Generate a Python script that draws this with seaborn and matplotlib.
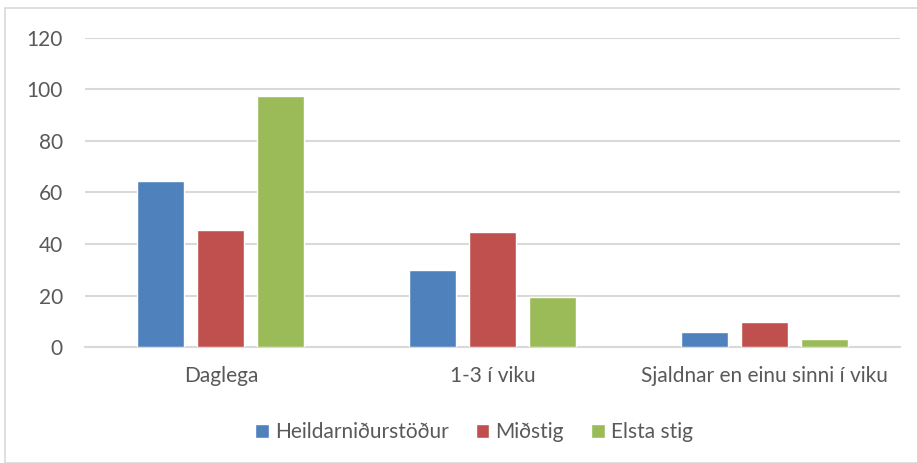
import matplotlib
matplotlib.use("Agg")
import matplotlib.pyplot as plt
from matplotlib.patches import Rectangle
import seaborn as sns
import pandas as pd

categories = ["Daglega", "1-3 í viku", "Sjaldnar en einu sinni í viku"]
series_names = ["Heildarniðurstöður", "Miðstig", "Elsta stig"]
heild = [64.5, 29.8, 5.8]
midstig = [45.5, 44.8, 9.7]
elsta = [97.5, 19.5, 3.1]
y_ticks = [0, 20, 40, 60, 80, 100, 120]

rows = []
for name, vals in zip(series_names, [heild, midstig, elsta]):
    for c, v in zip(categories, vals):
        rows.append({"cat": c, "series": name, "value": v})
df = pd.DataFrame(rows)

sns.set_theme(style="white")
plt.rcParams["font.family"] = ["Lato", "DejaVu Sans"]

fig = plt.figure(figsize=(9.17, 4.63), dpi=100)
ax = fig.add_axes([85/917, 1 - 347/463, (900-85)/917, (347-38)/463])

palette = ["#4F81BD", "#C0504D", "#9BBB59"]
sns.barplot(data=df, x="cat", y="value", hue="series", order=categories,
            hue_order=series_names, palette=palette, width=0.662, gap=0.217,
            saturation=1, ax=ax, zorder=3)

ax.set_ylim(0, 120)
ax.set_yticks(y_ticks)
ax.set_xlim(-0.5, 2.5)
ax.yaxis.grid(True, color="#D9D9D9", linewidth=1.5, zorder=0)
ax.set_axisbelow(True)
for s in ["top", "right", "left"]:
    ax.spines[s].set_visible(False)
ax.spines["bottom"].set_color("#D9D9D9")
ax.spines["bottom"].set_linewidth(1.5)
ax.set_xlabel("")
ax.set_ylabel("")
ax.tick_params(axis="both", length=0, labelsize=15, colors="#595959")
ax.tick_params(axis="x", pad=14)
ax.tick_params(axis="y", pad=16)

handles, labels = ax.get_legend_handles_labels()
ax.legend(handles, labels, loc="center", frameon=False, ncol=3, fontsize=15,
          handlelength=0.65, handleheight=0.65, handletextpad=0.3,
          columnspacing=1.3, labelcolor="#595959")
leg = ax.get_legend()
leg.set_bbox_to_anchor((474/917, 1 - 432/463), transform=fig.transFigure)

fig.patches.append(Rectangle((5/917, 0.0), 1.2, 1 - 8/463, transform=fig.transFigure,
                             fill=False, edgecolor="#D9D9D9", linewidth=1.2))

fig.savefig("out.png", dpi=100)
